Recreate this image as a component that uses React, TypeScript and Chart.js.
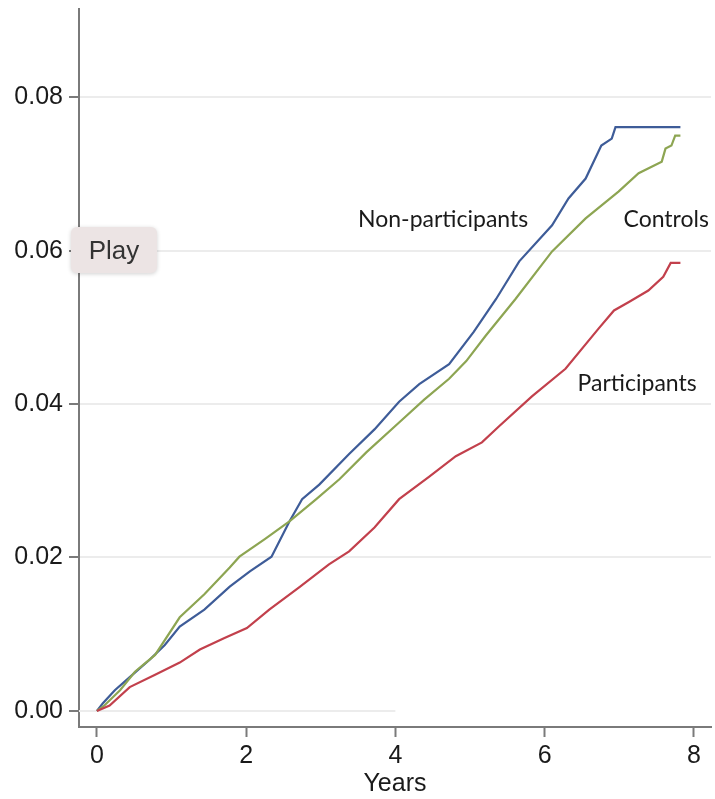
import React, { useEffect, useRef } from "react";
import { Chart, registerables } from "chart.js";

Chart.register(...registerables);

// Cumulative incidence (Kaplan–Meier style) by group, years since start
const nonPartYears = [0, 0.08, 0.24, 0.44, 0.71, 0.91, 1.11, 1.44, 1.78, 2.05, 2.34, 2.58, 2.75, 2.98, 3.38, 3.72, 4.05, 4.32, 4.72, 5.05, 5.35, 5.66, 6.1, 6.32, 6.55, 6.76, 6.9, 6.95, 7.82];
const nonPartRisk = [0, 0.001, 0.0027, 0.0044, 0.0067, 0.0086, 0.011, 0.0132, 0.0162, 0.0182, 0.0201, 0.0247, 0.0276, 0.0295, 0.0335, 0.0367, 0.0403, 0.0426, 0.0452, 0.0494, 0.0537, 0.0586, 0.0633, 0.0668, 0.0694, 0.0737, 0.0746, 0.0761, 0.0761];

const controlYears = [0, 0.1, 0.31, 0.51, 0.78, 1.11, 1.44, 1.78, 1.91, 2.25, 2.58, 2.94, 3.25, 3.61, 4.05, 4.39, 4.72, 4.95, 5.21, 5.61, 6.1, 6.55, 6.99, 7.26, 7.57, 7.62, 7.7, 7.75, 7.82];
const controlRisk = [0, 0.0007, 0.0027, 0.0051, 0.0073, 0.0122, 0.0152, 0.0187, 0.0201, 0.0224, 0.0247, 0.0276, 0.0302, 0.0337, 0.0376, 0.0406, 0.0433, 0.0456, 0.0489, 0.0537, 0.0599, 0.0642, 0.0677, 0.0701, 0.0716, 0.0733, 0.0737, 0.075, 0.075];

const partYears = [0, 0.17, 0.44, 0.78, 1.11, 1.38, 1.71, 2.01, 2.31, 2.71, 3.11, 3.38, 3.72, 4.05, 4.45, 4.81, 5.16, 5.39, 5.83, 6.28, 6.72, 6.93, 7.13, 7.39, 7.59, 7.69, 7.82];
const partRisk = [0, 0.0007, 0.0031, 0.0047, 0.0063, 0.008, 0.0095, 0.0108, 0.0132, 0.0161, 0.0191, 0.0208, 0.0239, 0.0276, 0.0305, 0.0332, 0.035, 0.0371, 0.041, 0.0446, 0.0498, 0.0522, 0.0533, 0.0548, 0.0566, 0.0584, 0.0584];

const xTicks = [0, 2, 4, 6, 8];
const yTicks = [0, 0.02, 0.04, 0.06, 0.08];

// Faint reference line along zero, only as far as year 4
const baselineEnd = 4;

const seriesLabels = [
  { text: "Non-participants", x: 4.64, y: 0.064 },
  { text: "Controls", x: 7.63, y: 0.064 },
  { text: "Participants", x: 7.24, y: 0.0427 },
];

const toPoints = (xs: number[], ys: number[]) => xs.map((x, i) => ({ x, y: ys[i] }));

const AXIS = "#7a7a7a";
const GRID = "#ececec";
const TICK_FONT = { family: "'Liberation Sans', Arial, sans-serif", size: 25 };

export default function App() {
  const canvasRef = useRef<HTMLCanvasElement | null>(null);

  useEffect(() => {
    const canvas = canvasRef.current;
    if (!canvas) return;

    const xMin = -0.24;

    const labelPlugin = {
      id: "seriesLabels",
      afterDatasetsDraw(chart: any) {
        const { ctx, scales } = chart;
        ctx.save();
        ctx.fillStyle = "#1a1a1a";
        ctx.font = "23px Lato, 'Open Sans', sans-serif";
        ctx.textAlign = "center";
        ctx.textBaseline = "middle";
        for (const l of seriesLabels) {
          ctx.fillText(l.text, scales.x.getPixelForValue(l.x), scales.y.getPixelForValue(l.y));
        }
        ctx.restore();
      },
    };

    const chart = new Chart(canvas, {
      type: "line",
      data: {
        datasets: [
          {
            label: "baseline",
            data: [{ x: xMin, y: 0 }, { x: baselineEnd, y: 0 }],
            borderColor: GRID,
            borderWidth: 2,
            pointRadius: 0,
            order: 10,
          },
          {
            label: "Non-participants",
            data: toPoints(nonPartYears, nonPartRisk),
            borderColor: "#3e5c98",
            borderWidth: 2.2,
            pointRadius: 0,
            tension: 0,
            order: 2,
          },
          {
            label: "Controls",
            data: toPoints(controlYears, controlRisk),
            borderColor: "#8da552",
            borderWidth: 2.2,
            pointRadius: 0,
            tension: 0,
            order: 1,
          },
          {
            label: "Participants",
            data: toPoints(partYears, partRisk),
            borderColor: "#c2404c",
            borderWidth: 2.2,
            pointRadius: 0,
            tension: 0,
            order: 0,
          },
        ],
      },
      options: {
        animation: false,
        responsive: false,
        devicePixelRatio: 1,
        layout: { padding: { top: 9, right: 4, left: 0, bottom: 0 } },
        plugins: {
          legend: { display: false },
          tooltip: { enabled: false },
          title: { display: false },
        },
        scales: {
          x: {
            type: "linear",
            min: xMin,
            max: 8.23,
            afterBuildTicks: (scale: any) => {
              scale.ticks = xTicks.map((v) => ({ value: v }));
            },
            afterFit: (scale: any) => {
              scale.height = 72;
              scale.paddingLeft = 0;
              scale.paddingRight = 0;
            },
            grid: {
              drawOnChartArea: false,
              drawTicks: true,
              tickLength: 10,
              tickColor: AXIS,
              tickWidth: 2,
            },
            border: { color: AXIS, width: 2 },
            ticks: {
              color: "#1a1a1a",
              font: TICK_FONT,
              padding: 4,
              maxRotation: 0,
              callback: (v: any) => String(v),
            },
            title: {
              display: true,
              text: "Years",
              color: "#1a1a1a",
              font: TICK_FONT,
              padding: { top: 0, bottom: 0 },
            },
          },
          y: {
            type: "linear",
            min: -0.0021,
            max: 0.0915,
            afterBuildTicks: (scale: any) => {
              scale.ticks = yTicks.map((v) => ({ value: v }));
            },
            afterFit: (scale: any) => {
              scale.width = 79;
              scale.paddingTop = 0;
              scale.paddingBottom = 0;
            },
            grid: {
              color: (ctx: any) => (ctx.tick && ctx.tick.value === 0 ? "rgba(0,0,0,0)" : GRID),
              lineWidth: 2,
              tickLength: 10,
              tickColor: AXIS,
              tickWidth: 2,
            },
            border: { color: AXIS, width: 2 },
            ticks: {
              color: "#1a1a1a",
              font: TICK_FONT,
              padding: 6,
              callback: (v: any) => Number(v).toFixed(2),
            },
          },
        },
      },
      plugins: [labelPlugin],
    });

    return () => chart.destroy();
  }, []);

  return (
    <div style={{ position: "absolute", left: 0, top: 0, width: 715, height: 799, background: "#fff" }}>
      <canvas ref={canvasRef} width={715} height={799} style={{ display: "block" }} />
      <div
        style={{
          position: "absolute",
          left: 71,
          top: 227,
          width: 86,
          height: 46,
          background: "#ece4e4",
          borderRadius: 6,
          boxShadow: "0 1px 4px rgba(0,0,0,0.18)",
          color: "#333",
          font: "26px 'Liberation Sans', Arial, sans-serif",
          display: "flex",
          alignItems: "center",
          justifyContent: "center",
        }}
      >
        Play
      </div>
    </div>
  );
}
